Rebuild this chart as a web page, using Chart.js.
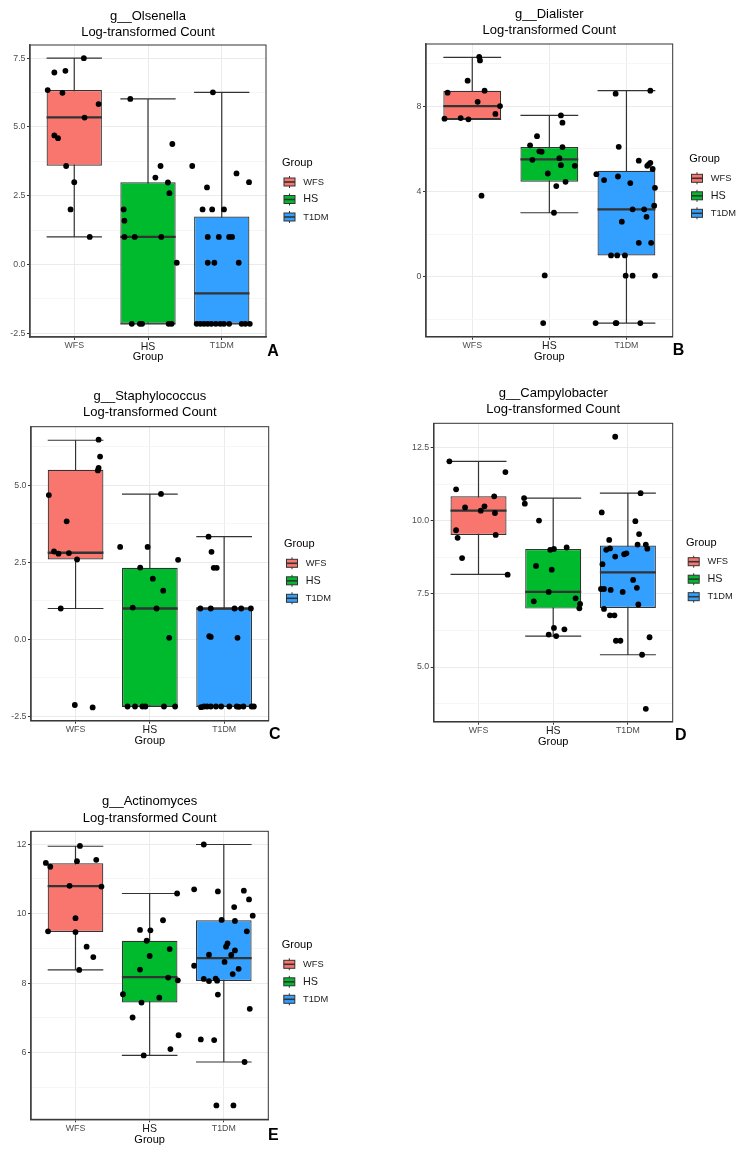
<!DOCTYPE html>
<html>
<head>
<meta charset="utf-8">
<script src="https://cdn.jsdelivr.net/npm/chart.js@4.4.0/dist/chart.umd.min.js"></script>
<style>
html,body{margin:0;padding:0;background:#fff;}
#wrap{position:relative;width:742px;height:1152px;overflow:hidden;background:#fff;}
#wrap canvas{position:absolute;display:block;}
</style>
</head>
<body>
<div id="wrap"></div>
<script>
// ---------------- DATA ----------------
const groups = ['WFS', 'HS', 'T1DM'];
const yTitleLine = 'Log-transformed Count';
const xTitle = 'Group';
const legendTitle = 'Group';
const panelLetters = ['A', 'B', 'C', 'D', 'E'];
const genusNames = ['g__Olsenella', 'g__Dialister', 'g__Staphylococcus', 'g__Campylobacter', 'g__Actinomyces'];

// box stats per group: [lower whisker, Q1, median, Q3, upper whisker]
const olsenellaStats = [[1.0, 3.59, 5.35, 6.34, 7.5], [-2.16, -2.16, 1.0, 2.99, 6.02], [-2.16, -2.16, -1.05, 1.74, 6.26]];
// jittered points: [x jitter, value]
const olsenellaWFS = [[0.13,7.5],[-0.27,6.98],[-0.12,7.04],[-0.36,6.34],[-0.16,6.24],[0.33,5.83],[0.14,5.34],[-0.27,4.69],[-0.22,4.59],[-0.11,3.58],[0.0,2.99],[-0.05,2.0],[0.21,1.0]];
const olsenellaHS = [[-0.24,6.02],[0.33,4.38],[0.17,3.58],[0.10,3.16],[0.27,2.98],[0.29,2.59],[-0.33,2.0],[-0.32,1.59],[-0.32,1.0],[-0.18,1.0],[0.18,1.0],[0.39,0.06],[-0.22,-2.16],[-0.11,-2.16],[-0.08,-2.16],[0.28,-2.16],[0.32,-2.16]];
const olsenellaT1DM = [[-0.12,6.26],[-0.40,3.58],[0.20,3.31],[0.37,2.99],[-0.20,2.80],[-0.26,2.0],[-0.13,2.0],[0.03,2.0],[-0.19,1.0],[-0.04,1.0],[0.10,1.0],[0.14,1.0],[-0.19,0.06],[-0.10,0.06],[0.23,0.06],[-0.34,-2.16],[-0.29,-2.16],[-0.24,-2.16],[-0.19,-2.16],[-0.14,-2.16],[-0.08,-2.16],[-0.02,-2.16],[0.03,-2.16],[0.10,-2.16],[0.27,-2.16],[0.32,-2.16],[0.38,-2.16]];
const olsenellaTicks = [-2.5, 0, 2.5, 5, 7.5];
const olsenellaTickLabels = ['-2.5', '0.0', '2.5', '5.0', '7.5'];
const olsenellaRange = [-2.64, 7.98];

const dialisterStats = [[7.38, 7.39, 8.0, 8.72, 10.28], [3.0, 4.45, 5.5, 6.08, 7.56], [-2.17, 1.0, 3.16, 4.97, 8.72]];
const dialisterWFS = [[0.09,10.31],[0.10,10.14],[-0.06,9.19],[-0.32,8.63],[0.16,8.72],[0.07,8.2],[0.36,8.0],[0.30,7.63],[-0.36,7.41],[-0.15,7.44],[-0.05,7.38],[0.12,3.8]];
const dialisterHS = [[0.15,7.56],[0.17,7.22],[-0.16,6.59],[-0.25,6.16],[-0.13,5.88],[-0.10,5.86],[0.17,6.08],[0.13,5.56],[-0.22,5.48],[0.15,5.23],[0.33,5.2],[-0.02,4.84],[0.21,4.45],[0.09,4.25],[0.06,3.0],[-0.06,0.06],[-0.08,-2.17]];
const dialisterT1DM = [[-0.14,8.58],[0.31,8.72],[-0.10,6.09],[0.16,5.44],[0.31,5.34],[0.29,5.27],[0.27,5.2],[0.34,5.05],[-0.39,4.81],[-0.11,4.7],[-0.29,4.53],[0.05,4.39],[0.37,4.17],[0.36,3.33],[0.08,3.16],[0.23,3.16],[0.26,2.81],[-0.06,2.58],[0.16,1.59],[0.32,1.59],[-0.20,1.0],[-0.12,1.0],[-0.02,1.0],[-0.01,0.05],[0.08,0.05],[0.37,0.05],[-0.40,-2.17],[-0.14,-2.17],[-0.13,-2.17],[0.18,-2.17]];
const dialisterTicks = [0, 4, 8];
const dialisterTickLabels = ['0', '4', '8'];
const dialisterRange = [-2.81, 10.91];

const staphStats = [[1.0, 2.59, 2.81, 5.5, 6.46], [-2.18, -2.18, 1.0, 2.32, 4.71], [-2.18, -2.18, 1.0, 1.0, 3.33]];
const staphWFS = [[0.31,6.48],[0.33,5.93],[0.31,5.56],[0.30,5.48],[-0.36,4.68],[-0.12,3.83],[-0.29,2.85],[-0.23,2.78],[-0.09,2.80],[0.02,2.59],[-0.20,1.0],[-0.01,-2.13],[0.23,-2.21]];
const staphHS = [[0.15,4.72],[-0.40,3.0],[-0.03,3.0],[0.38,2.58],[-0.13,2.33],[0.04,1.97],[0.18,1.58],[-0.23,1.03],[0.09,1.0],[0.26,0.05],[-0.30,-2.18],[-0.20,-2.18],[-0.10,-2.18],[-0.06,-2.18],[0.19,-2.18],[0.34,-2.18]];
const staphT1DM = [[-0.21,3.33],[-0.17,2.84],[-0.14,2.32],[-0.10,2.32],[-0.32,1.0],[-0.18,1.0],[0.14,1.0],[0.23,1.0],[0.36,1.0],[-0.20,0.1],[-0.18,0.08],[0.18,0.05],[-0.31,-2.2],[-0.27,-2.18],[-0.23,-2.18],[-0.18,-2.18],[-0.11,-2.18],[-0.04,-2.18],[0.07,-2.18],[0.17,-2.18],[0.20,-2.19],[0.26,-2.18],[0.37,-2.18],[0.40,-2.18]];
const staphTicks = [-2.5, 0, 2.5, 5];
const staphTickLabels = ['-2.5', '0.0', '2.5', '5.0'];
const staphRange = [-2.64, 6.9];

const campyStats = [[8.17, 9.52, 10.35, 10.84, 12.04], [6.06, 7.0, 7.57, 9.04, 10.78], [5.42, 7.02, 8.24, 9.16, 10.95]];
const campyWFS = [[-0.39,12.04],[0.36,11.67],[-0.30,11.08],[0.21,10.84],[-0.18,10.46],[0.08,10.50],[0.03,10.35],[0.22,10.27],[-0.30,9.68],[-0.28,9.42],[0.23,9.52],[-0.22,8.73],[0.39,8.16]];
const campyHS = [[-0.39,10.78],[-0.38,10.59],[-0.19,10.01],[0.18,9.09],[-0.04,9.01],[0.01,9.04],[-0.23,8.46],[-0.02,8.33],[-0.06,7.57],[0.30,7.35],[-0.26,7.25],[0.36,7.16],[0.35,7.01],[0.01,6.34],[0.15,6.29],[-0.06,6.11],[0.04,6.06]];
const campyT1DM = [[-0.17,12.88],[0.17,10.95],[-0.35,10.29],[0.10,9.99],[-0.25,9.35],[0.15,9.55],[0.13,9.19],[0.24,9.19],[0.26,9.05],[-0.29,9.01],[-0.24,9.06],[-0.05,8.86],[-0.02,8.89],[-0.17,8.78],[-0.34,8.52],[0.07,7.98],[-0.36,7.67],[-0.32,7.67],[-0.23,7.64],[-0.07,7.57],[0.12,7.71],[0.14,7.14],[-0.32,6.99],[-0.24,6.77],[-0.18,6.77],[-0.16,5.90],[-0.10,5.90],[0.29,6.02],[0.19,5.42],[0.24,3.57]];
const campyTicks = [5, 7.5, 10, 12.5];
const campyTickLabels = ['5.0', '7.5', '10.0', '12.5'];
const campyRange = [3.13, 13.34];

const actinoStats = [[8.38, 9.47, 10.79, 11.45, 11.94], [5.92, 7.44, 8.17, 9.22, 10.58], [5.73, 8.06, 8.72, 9.81, 11.99]];
const actinoWFS = [[0.06,11.95],[-0.40,11.46],[-0.34,11.35],[0.02,11.51],[0.28,11.55],[-0.08,10.80],[0.35,10.78],[0.00,9.87],[-0.37,9.49],[0.00,9.47],[0.15,9.05],[0.24,8.75],[0.05,8.38]];
const actinoHS = [[0.37,10.58],[0.18,9.81],[-0.13,9.53],[0.01,9.52],[-0.04,9.22],[0.27,8.98],[0.00,8.78],[-0.13,8.39],[0.25,8.16],[0.38,8.08],[-0.36,7.68],[0.13,7.58],[-0.11,7.44],[-0.23,7.01],[0.39,6.50],[0.28,6.10],[-0.08,5.92]];
const actinoT1DM = [[-0.27,11.99],[-0.40,10.70],[-0.08,10.64],[0.27,10.66],[0.34,10.41],[0.14,10.19],[0.39,9.94],[-0.03,9.82],[0.15,9.79],[0.31,9.49],[0.05,9.14],[0.03,9.05],[0.15,8.94],[-0.20,8.82],[0.10,8.81],[-0.40,8.50],[0.01,8.61],[0.20,8.41],[0.12,8.26],[-0.27,8.12],[-0.20,8.06],[-0.11,8.13],[-0.09,8.07],[-0.08,7.67],[0.35,7.26],[-0.31,6.38],[-0.13,6.36],[0.28,5.73],[-0.10,4.48],[0.13,4.48]];
const actinoTicks = [6, 8, 10, 12];
const actinoTickLabels = ['6', '8', '10', '12'];
const actinoRange = [4.08, 12.37];

// ---------------- STYLE / LAYOUT ----------------
const FONT = '"Liberation Sans", Arial, Helvetica, sans-serif';
const groupColors = ['#F8766D', '#00BA2E', '#33A0FF'];
const BOX_W = 0.75;
const LINE_C = '#333333';

const layouts = [
  {left:0,   top:0,   w:371, h:370, area:[30, 45, 266, 337],       t1:16.5, leg:{tx:282,   ty:163,   kx:283.5}, letter:[267.3, 351.3]},
  {left:371, top:0,   w:371, h:370, area:[55, 44, 301.7, 336.7],   t1:14.3, leg:{tx:318.3, ty:159.3, kx:320},   letter:[301.7, 351]},
  {left:0,   top:370, w:371, h:380, area:[31, 56.7, 268.7, 350.7], t1:26,   leg:{tx:284,   ty:174.3, kx:286},   letter:[269, 364.5]},
  {left:371, top:380, w:371, h:380, area:[62.7, 43.3, 301.7, 341.7], t1:13.3, leg:{tx:315, ty:162.7, kx:316.7}, letter:[304, 355.5]},
  {left:0,   top:760, w:371, h:392, area:[31, 71.3, 268.3, 359.3], t1:41.7, leg:{tx:281.7, ty:185.3, kx:283.3}, letter:[268, 375.7]}
];

const panelData = [
  {stats: olsenellaStats, pts: [olsenellaWFS, olsenellaHS, olsenellaT1DM], ticks: olsenellaTicks, labels: olsenellaTickLabels, range: olsenellaRange},
  {stats: dialisterStats, pts: [dialisterWFS, dialisterHS, dialisterT1DM], ticks: dialisterTicks, labels: dialisterTickLabels, range: dialisterRange},
  {stats: staphStats, pts: [staphWFS, staphHS, staphT1DM], ticks: staphTicks, labels: staphTickLabels, range: staphRange},
  {stats: campyStats, pts: [campyWFS, campyHS, campyT1DM], ticks: campyTicks, labels: campyTickLabels, range: campyRange},
  {stats: actinoStats, pts: [actinoWFS, actinoHS, actinoT1DM], ticks: actinoTicks, labels: actinoTickLabels, range: actinoRange}
];

const X_AXIS_H = 27;
const TITLE_LH = 1.25, TITLE_SIZE = 13;

const decorPlugin = {
  id: 'decor',
  afterDraw(chart, args, opts) {
    const ctx = chart.ctx, a = chart.chartArea, L = opts.layout;
    ctx.save();
    // panel border
    ctx.strokeStyle = LINE_C; ctx.lineWidth = 1;
    ctx.strokeRect(a.left, a.top, a.right - a.left, a.bottom - a.top);
    // legend
    ctx.textAlign = 'left'; ctx.textBaseline = 'middle';
    ctx.fillStyle = '#000';
    ctx.font = '11px ' + FONT;
    ctx.fillText(legendTitle, L.leg.tx, L.leg.ty);
    groups.forEach((g, i) => {
      const cy = L.leg.ty + 19 + i * 17.5, kx = L.leg.kx;
      ctx.strokeStyle = LINE_C; ctx.lineWidth = 1;
      ctx.beginPath(); ctx.moveTo(kx + 6, cy - 6); ctx.lineTo(kx + 6, cy + 6); ctx.stroke();
      ctx.fillStyle = groupColors[i];
      ctx.fillRect(kx + 0.5, cy - 4, 11, 8);
      ctx.strokeRect(kx + 0.5, cy - 4, 11, 8);
      ctx.lineWidth = 1.6;
      ctx.beginPath(); ctx.moveTo(kx + 0.5, cy); ctx.lineTo(kx + 11.5, cy); ctx.stroke();
      ctx.fillStyle = '#1a1a1a';
      ctx.font = (i === 1 ? '10.8px ' : '9.3px ') + FONT;
      ctx.fillText(g, kx + 19.7, cy);
    });
    // panel letter
    ctx.fillStyle = '#000';
    ctx.font = 'bold 16px ' + FONT;
    ctx.fillText(opts.letter, L.letter[0], L.letter[1]);
    ctx.restore();
  }
};

function buildPanel(k) {
  const L = layouts[k], D = panelData[k];
  const cv = document.createElement('canvas');
  cv.width = L.w; cv.height = L.h;
  cv.style.left = L.left + 'px'; cv.style.top = L.top + 'px';
  cv.style.width = L.w + 'px'; cv.style.height = L.h + 'px';
  document.getElementById('wrap').appendChild(cv);

  const majors = D.ticks;
  const step = majors[1] - majors[0];
  const minors = [];
  for (let v = majors[0] - step / 2; v <= D.range[1]; v += step) {
    if (v >= D.range[0]) minors.push(v);
  }
  const allTicks = majors.concat(minors).sort((p, q) => p - q);
  const isMajor = v => majors.some(m => Math.abs(m - v) < 1e-9);

  const h = BOX_W / 2;
  const whisk = [], med = [];
  D.stats.forEach((s, i) => {
    const c = i + 1;
    whisk.push({x: c, y: s[0]}, {x: c, y: s[4]}, {x: c, y: null});
    whisk.push({x: c - h, y: s[4]}, {x: c + h, y: s[4]}, {x: c, y: null});
    whisk.push({x: c - h, y: s[0]}, {x: c + h, y: s[0]}, {x: c, y: null});
    med.push({x: c - h, y: s[2]}, {x: c + h, y: s[2]}, {x: c, y: null});
  });
  const boxes = D.stats.map((s, i) => ({x: i + 1, y: [s[1], s[3]]}));
  const points = [];
  D.pts.forEach((arr, i) => arr.forEach(p => points.push({x: i + 1 + p[0], y: p[1]})));

  const pt = L.t1 - TITLE_SIZE * TITLE_LH / 2;
  const pb = L.area[1] - pt - 2 * TITLE_SIZE * TITLE_LH;

  new Chart(cv, {
    type: 'scatter',
    data: {
      datasets: [
        {type: 'scatter', data: points, pointRadius: 2.9, pointHoverRadius: 2.9, backgroundColor: '#000', borderWidth: 0, order: 0},
        {type: 'line', data: med, borderColor: LINE_C, borderWidth: 2.3, pointRadius: 0, fill: false, spanGaps: false, tension: 0, borderCapStyle: 'butt', order: 1},
        {type: 'bar', data: boxes, backgroundColor: groupColors, borderColor: LINE_C, borderWidth: 1.2, borderSkipped: false, barPercentage: BOX_W, categoryPercentage: 1, grouped: false, order: 2},
        {type: 'line', data: whisk, borderColor: LINE_C, borderWidth: 1.2, pointRadius: 0, fill: false, spanGaps: false, tension: 0, borderCapStyle: 'butt', order: 3}
      ]
    },
    options: {
      responsive: false,
      devicePixelRatio: 1,
      animation: false,
      events: [],
      layout: {padding: {left: 0, top: 0, right: L.w - L.area[2], bottom: L.h - L.area[3] - X_AXIS_H}},
      scales: {
        x: {
          type: 'linear', min: 0.4, max: 3.6, offset: false, beginAtZero: false,
          afterBuildTicks: s => { s.ticks = groups.map((g, i) => ({value: i + 1})); },
          afterFit: s => { s.height = X_AXIS_H; },
          ticks: {
            autoSkip: false, maxRotation: 0, minRotation: 0, padding: 0.5,
            callback: v => groups[Math.round(v) - 1],
            color: c => c.index === 1 ? '#1a1a1a' : '#4D4D4D',
            font: c => ({size: c.index === 1 ? 10.5 : 8.8, family: FONT})
          },
          grid: {color: '#EBEBEB', lineWidth: 1, tickColor: LINE_C, tickLength: 3, offset: false, drawOnChartArea: true},
          border: {display: true, color: '#555', width: 1.5, z: 1},
          title: {display: true, text: xTitle, color: '#000', font: {size: 11, family: FONT}, padding: {top: 0, bottom: 0}}
        },
        y: {
          type: 'linear', min: D.range[0], max: D.range[1], beginAtZero: false,
          afterBuildTicks: s => { s.ticks = allTicks.map(v => ({value: v})); },
          afterFit: s => { s.width = L.area[0]; },
          ticks: {
            autoSkip: false, padding: 1.5, color: '#4D4D4D', font: {size: 8.8, family: FONT},
            callback: v => { const i = majors.findIndex(m => Math.abs(m - v) < 1e-9); return i < 0 ? '' : D.labels[i]; }
          },
          grid: {
            color: c => isMajor(c.tick.value) ? '#EBEBEB' : '#F4F4F4',
            lineWidth: c => isMajor(c.tick.value) ? 1 : 0.8,
            tickColor: c => isMajor(c.tick.value) ? LINE_C : 'rgba(0,0,0,0)',
            tickLength: 3
          },
          border: {display: true, color: '#555', width: 1.5, z: 1}
        }
      },
      plugins: {
        legend: {display: false},
        tooltip: {enabled: false},
        title: {
          display: true, fullSize: false, text: [genusNames[k], yTitleLine], color: '#000',
          font: {size: TITLE_SIZE, family: FONT, weight: 'normal', lineHeight: TITLE_LH},
          padding: {top: pt, bottom: pb}
        },
        decor: {layout: L, letter: panelLetters[k]}
      }
    },
    plugins: [decorPlugin]
  });
}

for (let k = 0; k < layouts.length; k++) buildPanel(k);
</script>
</body>
</html>
